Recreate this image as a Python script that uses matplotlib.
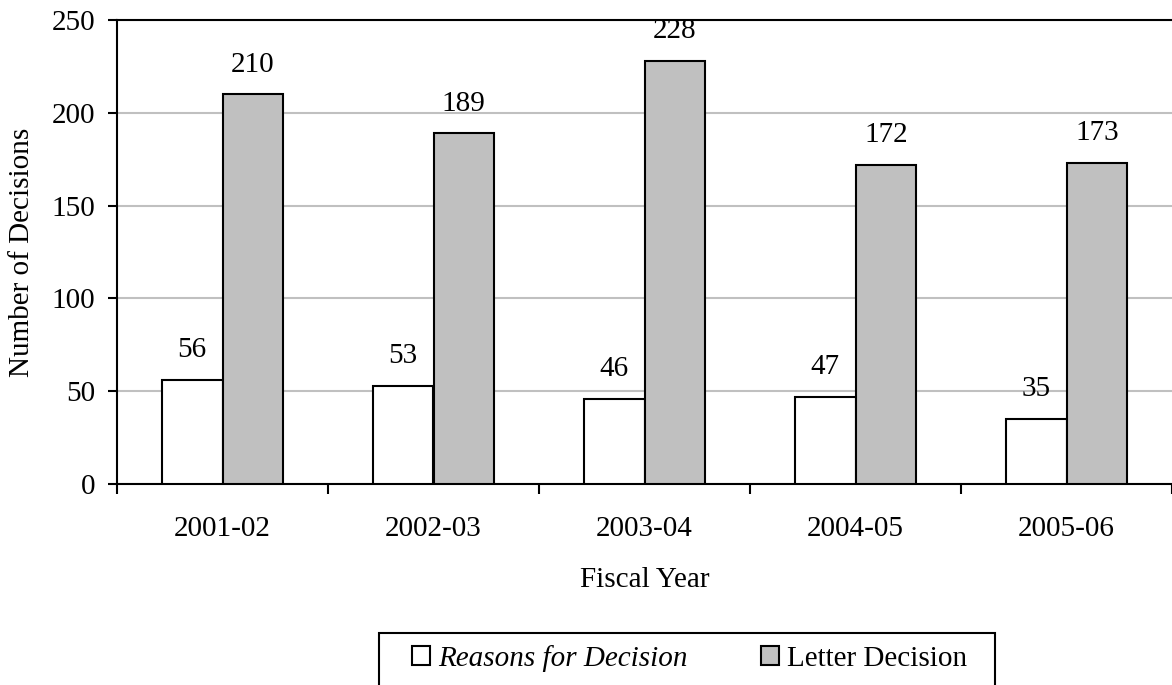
#!/usr/bin/env python3
# python ./plot.py
#
# decisions per fiscal year, reasons vs letter decisions
# ===========================================================

import numpy as np
import matplotlib
matplotlib.use('Agg')
import matplotlib.pyplot as plt
from matplotlib.patches import Rectangle

years = ['2001-02', '2002-03', '2003-04', '2004-05', '2005-06']
reasons = [56, 53, 46, 47, 35]
letters = [210, 189, 228, 172, 173]
series_names = ['Reasons for Decision', 'Letter Decision']

plt.rcParams['font.family'] = ['Liberation Serif', 'DejaVu Serif']
fs = 21

fig = plt.figure(figsize=(11.72, 6.85), dpi=100)
ax = fig.add_axes([117 / 1172, 1 - 484 / 685, 1 - 117 / 1172, (484 - 20) / 685])

x = np.arange(len(years))
w = 0.287
b1 = ax.bar(x - w / 2, reasons, w, color='white', edgecolor='black', linewidth=1.5, zorder=3)
b2 = ax.bar(x + w / 2, letters, w, color='#c0c0c0', edgecolor='black', linewidth=1.5, zorder=3)

# value labels above each bar
for bars, vals in ((b1, reasons), (b2, letters)):
    for rect, v in zip(bars, vals):
        ax.annotate(str(v), (rect.get_x() + rect.get_width() / 2, v),
                    xytext=(0, 12), textcoords='offset points',
                    ha='center', va='bottom', fontsize=fs, clip_on=True)

ax.set_xlim(-0.5, len(years) - 0.5)
ax.set_ylim(0, 250)
ax.set_yticks(range(0, 251, 50))
ax.yaxis.grid(True, color='#c0c0c0', linewidth=1.5, zorder=0)
ax.set_axisbelow(True)

# category boundary ticks, labels sit on the minor ticks
ax.set_xticks(np.arange(-0.5, len(years), 1.0))
ax.set_xticklabels([])
ax.set_xticks(x, minor=True)
ax.set_xticklabels(years, minor=True, fontsize=fs)
ax.tick_params(axis='x', which='major', direction='out', length=7, width=1.5)
ax.tick_params(axis='x', which='minor', length=0, pad=23)
ax.tick_params(axis='y', direction='out', length=6.5, width=1.5, pad=9, labelsize=fs)

ax.spines['right'].set_visible(False)
for s in ('left', 'top', 'bottom'):
    ax.spines[s].set_linewidth(1.5)

ax.set_xlabel('Fiscal Year', fontsize=fs, labelpad=18)
ax.set_ylabel('Number of Decisions', fontsize=fs, labelpad=12)

# legend below the plot, framed box runs off the bottom edge
fig.patches.append(Rectangle((379 / 1172, -0.05), (995 - 379) / 1172, 0.05 + (685 - 633) / 685,
                             transform=fig.transFigure, fill=False,
                             edgecolor='black', linewidth=1.5))
leg = fig.legend([b1, b2], series_names, loc='upper left',
                 bbox_to_anchor=(412 / 1172, 1 - 645 / 685), ncol=2, frameon=False,
                 fontsize=fs, handlelength=0.62, handleheight=0.62,
                 handletextpad=0.28, columnspacing=2.5, borderpad=0, borderaxespad=0)
leg.get_texts()[0].set_style('italic')

plt.savefig('out.png', dpi=100)
